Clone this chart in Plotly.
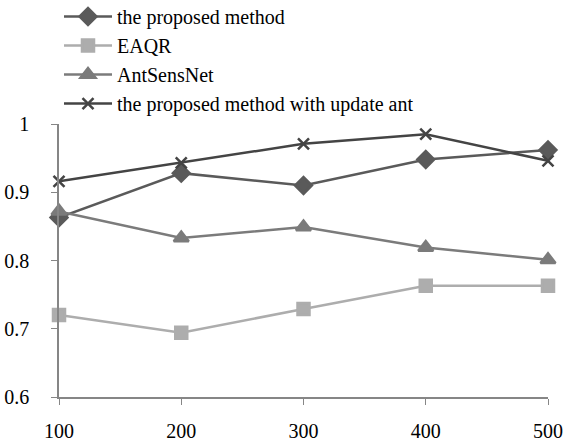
import plotly.graph_objects as go

x_vals = [100, 200, 300, 400, 500]
proposed = [0.863, 0.928, 0.910, 0.948, 0.962]
eaqr = [0.720, 0.694, 0.729, 0.763, 0.763]
antsensnet = [0.872, 0.833, 0.849, 0.819, 0.801]
proposed_update = [0.916, 0.943, 0.971, 0.985, 0.946]

series = [
    ("the proposed method", proposed, "#5a5a5a", "diamond", 13),
    ("EAQR", eaqr, "#adadad", "square", 12),
    ("AntSensNet", antsensnet, "#7b7b7b", "triangle-up", 13),
    ("the proposed method with update ant", proposed_update, "#444444", "x-thin", 11),
]

fig = go.Figure()
for name, vals, color, sym, size in series:
    fig.add_trace(go.Scatter(
        x=x_vals, y=vals, name=name, mode="lines+markers",
        line=dict(color=color, width=2.5),
        marker=dict(symbol=sym, size=size, color=color,
                    line=dict(color=color, width=2.5)),
        cliponaxis=False,
    ))

font_family = "Liberation Serif, Times New Roman, serif"
fig.update_layout(
    width=565, height=444,
    margin=dict(l=59, r=17, t=124, b=47, autoexpand=False),
    paper_bgcolor="white", plot_bgcolor="white",
    font=dict(family=font_family, size=20, color="black"),
    showlegend=True,
    legend=dict(x=0.0, y=1.465, xanchor="left", yanchor="top",
                font=dict(family=font_family, size=20, color="black"),
                bgcolor="rgba(0,0,0,0)", itemwidth=48, tracegroupgap=0),
)
fig.update_xaxes(range=[100, 500], tickvals=x_vals, ticktext=[str(v) for v in x_vals],
                 showgrid=False, zeroline=False, showline=True, linecolor="#868686",
                 linewidth=1.5, ticks="outside", ticklen=6, tickcolor="#868686",
                 tickfont=dict(size=20), ticklabelstandoff=9, automargin=False)
fig.update_yaxes(range=[0.6, 1.0], tickvals=[0.6, 0.7, 0.8, 0.9, 1.0],
                 ticktext=["0.6", "0.7", "0.8", "0.9", "1"],
                 showgrid=False, zeroline=False, showline=True, linecolor="#868686",
                 linewidth=1.5, ticks="outside", ticklen=6, tickcolor="#868686",
                 tickfont=dict(size=20), ticklabelstandoff=18, automargin=False)
fig.write_html("out.html", config={"displayModeBar": False},
               post_script="document.body.style.margin='0';document.body.style.overflow='hidden';")
